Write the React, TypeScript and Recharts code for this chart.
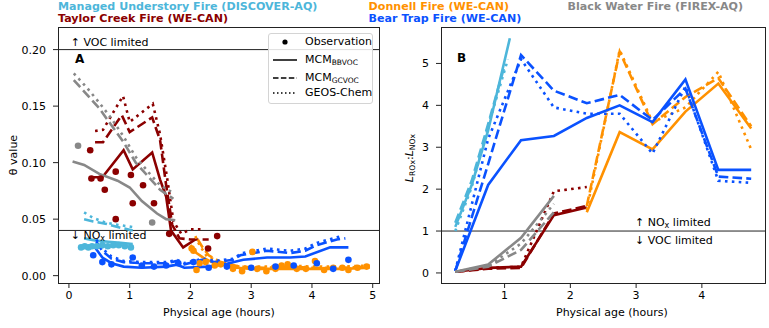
import React from "react";
import { ComposedChart, Line, Scatter, XAxis, YAxis, ReferenceLine } from "recharts";

const FONT = "'DejaVu Sans', sans-serif";

const C_UNDERSTORY = "#4db6da";
const C_TAYLOR = "#8b0000";
const C_DONNELL = "#ff9100";
const C_BEARTRAP = "#0a52ff";
const C_BLACKWATER = "#888888";

const thetaXTicks = [0, 1, 2, 3, 4, 5];
const thetaYTicks = [0, 0.05, 0.1, 0.15, 0.2];
const ratioXTicks = [1, 2, 3, 4];
const ratioYTicks = [0, 1, 2, 3, 4, 5];

// ---- panel A: theta value vs physical age (hours) ----
const understoryObsA = [[0.2, 0.025], [0.26, 0.026], [0.32, 0.025], [0.38, 0.026], [0.46, 0.026], [0.55, 0.027], [0.64, 0.026], [0.73, 0.027], [0.82, 0.027], [0.92, 0.026], [1.02, 0.025]];
const understoryBbA = [[0.25, 0.033], [0.45, 0.031], [0.65, 0.03], [0.85, 0.029], [1.05, 0.028]];
const understoryGcA = [[0.25, 0.05], [0.4, 0.048], [0.6, 0.046], [0.8, 0.043], [1.05, 0.04]];
const understoryGeosA = [[0.25, 0.056], [0.4, 0.051], [0.6, 0.047], [0.8, 0.045], [1.05, 0.043]];

const taylorObsA = [[0.35, 0.111], [0.37, 0.086], [0.52, 0.086], [0.59, 0.076], [0.77, 0.092], [0.77, 0.05], [1.02, 0.089], [1.05, 0.064], [1.22, 0.08], [1.4, 0.064], [1.65, 0.037], [2.29, 0.024], [2.44, 0.035]];
const taylorBbA = [[0.35, 0.087], [0.55, 0.087], [0.9, 0.111], [1.05, 0.094], [1.37, 0.109], [1.5, 0.085], [1.6, 0.07], [1.68, 0.04], [1.88, 0.025], [2.08, 0.032]];
const taylorGcA = [[0.43, 0.118], [0.56, 0.118], [0.87, 0.142], [1.0, 0.127], [1.37, 0.14], [1.5, 0.12], [1.6, 0.08], [1.7, 0.045], [1.82, 0.033], [2.0, 0.032], [2.3, 0.032]];
const taylorGeosA = [[0.43, 0.128], [0.56, 0.129], [0.89, 0.159], [1.0, 0.136], [1.38, 0.152], [1.5, 0.125], [1.62, 0.085], [1.72, 0.048], [1.85, 0.037], [2.0, 0.041], [2.2, 0.041]];

const donnellObsA = [[2.02, 0.024], [2.05, 0.022], [2.1, 0.005], [2.15, 0.011], [2.25, 0.012], [2.4, 0.009], [2.5, 0.01], [2.7, 0.006], [2.85, 0.004], [3.02, 0.021], [3.1, 0.006], [3.25, 0.004], [3.4, 0.006], [3.5, 0.009], [3.6, 0.01], [3.75, 0.006], [3.9, 0.006], [4.05, 0.013], [4.2, 0.005], [4.35, 0.007], [4.5, 0.007], [4.6, 0.005], [4.75, 0.007], [4.9, 0.008]];
const donnellBbA = [[2.0, 0.027], [2.1, 0.02], [2.21, 0.016], [2.35, 0.012], [2.49, 0.011], [2.76, 0.007], [3.0, 0.006], [3.5, 0.006], [4.0, 0.006], [4.5, 0.006], [4.95, 0.007]];
const donnellGcA = [[2.12, 0.032], [2.2, 0.025], [2.3, 0.018], [2.5, 0.012], [2.8, 0.008], [3.2, 0.007], [3.6, 0.008], [4.0, 0.007], [4.5, 0.007], [4.95, 0.008]];
const donnellGeosA = [[2.08, 0.035], [2.15, 0.027], [2.27, 0.017], [2.5, 0.012], [2.8, 0.008], [3.2, 0.008], [3.6, 0.009], [4.0, 0.008], [4.5, 0.008], [4.95, 0.009]];

const bearObsA = [[0.4, 0.018], [0.55, 0.012], [0.7, 0.01], [1.05, 0.016], [1.2, 0.009], [1.4, 0.008], [1.6, 0.009], [1.8, 0.011], [2.05, 0.012], [2.3, 0.007], [2.6, 0.008], [3.0, 0.007], [3.4, 0.008], [3.7, 0.009], [4.08, 0.011], [4.35, 0.006], [4.6, 0.014]];
const bearBbA = [[0.43, 0.025], [0.55, 0.016], [0.7, 0.011], [0.9, 0.008], [1.2, 0.007], [1.6, 0.008], [1.78, 0.0097], [1.9, 0.007], [2.3, 0.008], [2.6, 0.0106], [2.87, 0.014], [3.26, 0.016], [3.64, 0.016], [3.89, 0.017], [4.3, 0.025], [4.6, 0.025]];
const bearGcA = [[0.45, 0.03], [0.55, 0.022], [0.7, 0.015], [0.9, 0.012], [1.2, 0.011], [1.6, 0.011], [1.78, 0.013], [1.9, 0.01], [2.19, 0.014], [2.4, 0.012], [2.7, 0.014], [2.82, 0.018], [3.26, 0.022], [3.64, 0.02], [3.89, 0.022], [4.08, 0.027], [4.41, 0.032], [4.55, 0.033]];
const bearGeosA = [[0.45, 0.032], [0.55, 0.024], [0.7, 0.017], [0.9, 0.013], [1.2, 0.012], [1.6, 0.012], [1.78, 0.014], [1.9, 0.011], [2.2, 0.015], [2.4, 0.013], [2.7, 0.015], [2.85, 0.02], [3.26, 0.024], [3.64, 0.022], [3.89, 0.024], [4.08, 0.029], [4.41, 0.034], [4.5, 0.035]];

const blackObsA = [[0.15, 0.115], [1.37, 0.047]];
const blackBbA = [[0.06, 0.101], [0.25, 0.098], [0.5, 0.09], [0.8, 0.084], [1.0, 0.078], [1.2, 0.066], [1.45, 0.055], [1.6, 0.05], [1.75, 0.049]];
const blackGcA = [[0.08, 0.173], [0.3, 0.16], [0.5, 0.148], [0.7, 0.133], [0.9, 0.118], [1.1, 0.1], [1.3, 0.088], [1.5, 0.076], [1.72, 0.068]];
const blackGeosA = [[0.08, 0.179], [0.3, 0.166], [0.5, 0.153], [0.7, 0.139], [0.9, 0.123], [1.1, 0.105], [1.3, 0.092], [1.5, 0.08], [1.72, 0.073]];

// ---- panel B: L_ROx / L_NOx ----
const understoryBbB = [[0.25, 1.1], [0.5, 2.1], [0.75, 3.4], [1.08, 5.6]];
const understoryGcB = [[0.25, 1.2], [0.5, 2.2], [0.75, 3.55], [1.0, 4.95]];
const understoryGeosB = [[0.25, 1.0], [0.5, 2.05], [0.75, 3.5], [1.05, 5.1]];

const taylorBbB = [[0.25, 0.03], [0.75, 0.12], [1.25, 0.15], [1.75, 1.38], [2.25, 1.56]];
const taylorGcB = [[0.25, 0.03], [0.75, 0.1], [1.25, 0.12], [1.75, 1.42], [2.25, 1.6]];
const taylorGeosB = [[0.25, 0.03], [0.75, 0.12], [1.25, 0.15], [1.75, 1.95], [2.25, 2.05]];

const donnellBbB = [[2.25, 1.45], [2.75, 3.36], [3.25, 2.95], [3.75, 3.85], [4.25, 4.52], [4.75, 3.45]];
const donnellGcB = [[2.25, 1.6], [2.75, 5.28], [3.25, 3.55], [3.75, 4.2], [4.25, 4.65], [4.75, 3.5]];
const donnellGeosB = [[2.25, 1.5], [2.75, 5.32], [3.25, 3.6], [3.75, 3.95], [4.25, 4.8], [4.75, 2.95]];

const bearBbB = [[0.25, 0.05], [0.75, 2.1], [1.25, 3.17], [1.75, 3.27], [2.25, 3.7], [2.75, 4.0], [3.25, 3.6], [3.75, 4.62], [4.25, 2.46], [4.75, 2.46]];
const bearGcB = [[0.25, 0.05], [0.75, 2.6], [1.25, 5.2], [1.75, 4.35], [2.25, 4.05], [2.75, 4.25], [3.25, 3.65], [3.75, 4.4], [4.25, 2.3], [4.75, 2.25]];
const bearGeosB = [[0.25, 0.05], [0.75, 3.2], [1.25, 5.1], [1.75, 3.95], [2.25, 3.8], [2.75, 3.8], [3.25, 2.85], [3.75, 4.45], [4.25, 2.2], [4.75, 2.15]];

const blackBbB = [[0.25, 0.03], [0.75, 0.2], [1.25, 0.84], [1.75, 1.84]];
const blackGcB = [[0.25, 0.03], [0.75, 0.15], [1.25, 0.55], [1.75, 1.45]];
const blackGeosB = [[0.25, 0.03], [0.75, 0.17], [1.25, 0.7], [1.75, 1.65]];

type Fire = { color: string; obs?: number[][]; bb: number[][]; gc: number[][]; geos: number[][] };

const firesA: Fire[] = [
  { color: C_UNDERSTORY, obs: understoryObsA, bb: understoryBbA, gc: understoryGcA, geos: understoryGeosA },
  { color: C_TAYLOR, obs: taylorObsA, bb: taylorBbA, gc: taylorGcA, geos: taylorGeosA },
  { color: C_DONNELL, obs: donnellObsA, bb: donnellBbA, gc: donnellGcA, geos: donnellGeosA },
  { color: C_BEARTRAP, obs: bearObsA, bb: bearBbA, gc: bearGcA, geos: bearGeosA },
  { color: C_BLACKWATER, obs: blackObsA, bb: blackBbA, gc: blackGcA, geos: blackGeosA },
];

const firesB: Fire[] = [
  { color: C_UNDERSTORY, bb: understoryBbB, gc: understoryGcB, geos: understoryGeosB },
  { color: C_TAYLOR, bb: taylorBbB, gc: taylorGcB, geos: taylorGeosB },
  { color: C_DONNELL, bb: donnellBbB, gc: donnellGcB, geos: donnellGeosB },
  { color: C_BEARTRAP, bb: bearBbB, gc: bearGcB, geos: bearGeosB },
  { color: C_BLACKWATER, bb: blackBbB, gc: blackGcB, geos: blackGeosB },
];

const LW = 2.6;
const DASH = "9.6 4.2";
const DOT = "2.6 4.3";

const toPts = (a: number[][]) => a.map(([x, y]) => ({ x, y }));

// observations as dots, then the three model runs (solid / dashed / dotted)
function fireSeries(f: Fire, id: string) {
  const out: React.ReactNode[] = [];
  if (f.obs) {
    out.push(
      <Scatter
        key={id + "obs"}
        data={toPts(f.obs)}
        dataKey="y"
        isAnimationActive={false}
        shape={(p: any) => <circle cx={p.cx} cy={p.cy} r={3.3} fill={f.color} />}
      />
    );
  }
  out.push(
    <Line key={id + "bb"} data={toPts(f.bb)} dataKey="y" type="linear" stroke={f.color} strokeWidth={LW} dot={false} activeDot={false} isAnimationActive={false} />,
    <Line key={id + "gc"} data={toPts(f.gc)} dataKey="y" type="linear" stroke={f.color} strokeWidth={LW} strokeDasharray={DASH} dot={false} activeDot={false} isAnimationActive={false} />,
    <Line key={id + "geos"} data={toPts(f.geos)} dataKey="y" type="linear" stroke={f.color} strokeWidth={LW} strokeDasharray={DOT} dot={false} activeDot={false} isAnimationActive={false} />
  );
  return out;
}

const tickStyle = { fontSize: 11, fill: "#000", fontFamily: FONT };

function Txt({ x, y, size = 11, bold = false, color = "#000", h = 14, children }: any) {
  return (
    <div
      style={{
        position: "absolute",
        left: x,
        top: y - h / 2,
        height: h,
        lineHeight: h + "px",
        fontSize: size,
        fontWeight: bold ? "bold" : "normal",
        color,
        whiteSpace: "nowrap",
      }}
    >
      {children}
    </div>
  );
}

const sub = (s: string, size = 8) => (
  <span style={{ fontSize: size, position: "relative", top: 2 }}>{s}</span>
);

function LegendKey({ kind }: { kind: string }) {
  return (
    <svg width={26} height={10} style={{ position: "absolute", left: 3, top: -5 }}>
      {kind === "obs" ? (
        <circle cx={13} cy={5} r={2.6} fill="#000" />
      ) : (
        <line
          x1={1}
          x2={25}
          y1={5}
          y2={5}
          stroke="#000"
          strokeWidth={1.5}
          strokeDasharray={kind === "gc" ? "5.5 2.4" : kind === "geos" ? "1.5 2.5" : undefined}
        />
      )}
    </svg>
  );
}

function Frame({ left, top, width, height }: any) {
  return (
    <div
      style={{
        position: "absolute",
        left,
        top,
        width,
        height,
        border: "1px solid #222",
        boxSizing: "border-box",
        pointerEvents: "none",
      }}
    />
  );
}

export default function App() {
  return (
    <div style={{ position: "absolute", left: 0, top: 0, width: 769, height: 328, background: "#fff", fontFamily: FONT, overflow: "hidden" }}>
      {/* fire names */}
      <Txt x={58} y={7.3} size={11.1} h={12} bold color={C_UNDERSTORY}>Managed Understory Fire (DISCOVER-AQ)</Txt>
      <Txt x={58} y={19.3} size={11.1} h={12} bold color={C_TAYLOR}>Taylor Creek Fire (WE-CAN)</Txt>
      <Txt x={368.6} y={7.3} size={11.1} h={12} bold color={C_DONNELL}>Donnell Fire (WE-CAN)</Txt>
      <Txt x={368.6} y={19.3} size={11.1} h={12} bold color={C_BEARTRAP}>Bear Trap Fire (WE-CAN)</Txt>
      <Txt x={567.6} y={7.3} size={11.1} h={12} bold color={C_BLACKWATER}>Black Water Fire (FIREX-AQ)</Txt>

      {/* panel A */}
      <div style={{ position: "absolute", left: 0, top: 0 }}>
        <ComposedChart width={385} height={328} margin={{ top: 27, right: 5, bottom: 15, left: 18 }}>
          <XAxis
            type="number"
            dataKey="x"
            domain={[-0.18, 5.12]}
            allowDataOverflow
            ticks={thetaXTicks}
            interval={0}
            height={30}
            axisLine={false}
            tickSize={5}
            tickMargin={3}
            tickLine={{ stroke: "#222" }}
            tick={tickStyle}
          />
          <YAxis
            type="number"
            dataKey="y"
            domain={[-0.0065, 0.22]}
            allowDataOverflow
            ticks={thetaYTicks}
            interval={0}
            width={40}
            axisLine={false}
            tickSize={5}
            tickMargin={7}
            tickLine={{ stroke: "#222" }}
            tick={tickStyle}
            tickFormatter={(v: number) => v.toFixed(2)}
          />
          <ReferenceLine y={0.2} stroke="#222" strokeWidth={1} />
          <ReferenceLine y={0.04} stroke="#222" strokeWidth={1} />
          {firesA.map((f, i) => fireSeries(f, "a" + i))}
        </ComposedChart>
      </div>
      <Frame left={58} top={27} width={322} height={257} />

      {/* panel B */}
      <div style={{ position: "absolute", left: 400, top: 0 }}>
        <ComposedChart width={369} height={328} margin={{ top: 27, right: 4, bottom: 15, left: 1 }}>
          <XAxis
            type="number"
            dataKey="x"
            domain={[0.033, 4.96]}
            allowDataOverflow
            ticks={ratioXTicks}
            interval={0}
            height={30}
            axisLine={false}
            tickSize={5}
            tickMargin={3}
            tickLine={{ stroke: "#222" }}
            tick={tickStyle}
          />
          <YAxis
            type="number"
            dataKey="y"
            domain={[-0.24, 5.87]}
            allowDataOverflow
            ticks={ratioYTicks}
            interval={0}
            width={40}
            axisLine={false}
            tickSize={5}
            tickMargin={7}
            tickLine={{ stroke: "#222" }}
            tick={tickStyle}
          />
          <ReferenceLine y={1} stroke="#222" strokeWidth={1} />
          {firesB.map((f, i) => fireSeries(f, "b" + i))}
        </ComposedChart>
      </div>
      <Frame left={441} top={27} width={325} height={257} />

      {/* annotations */}
      <Txt x={70.7} y={42.7}>↑ VOC limited</Txt>
      <Txt x={75} y={59} size={12} bold>A</Txt>
      <Txt x={70.7} y={236}>↓ NO{sub("x")} limited</Txt>
      <Txt x={457} y={58.3} size={12} bold>B</Txt>
      <Txt x={635} y={223.3}>↑ NO{sub("x")} limited</Txt>
      <Txt x={635} y={241}>↓ VOC limited</Txt>

      {/* legend */}
      <div
        style={{
          position: "absolute",
          left: 268,
          top: 33,
          width: 105,
          height: 71,
          border: "1px solid #d4d4d4",
          borderRadius: 3,
          background: "rgba(255,255,255,0.85)",
          boxSizing: "border-box",
          fontSize: 11,
        }}
      >
        {[
          { kind: "obs", y: 9.3, label: <>Observation</> },
          { kind: "bb", y: 27, label: <>MCM{sub("BBVOC", 7.5)}</> },
          { kind: "gc", y: 44.7, label: <>MCM{sub("GCVOC", 7.5)}</> },
          { kind: "geos", y: 60.3, label: <>GEOS-Chem</> },
        ].map((r) => (
          <div key={r.kind} style={{ position: "absolute", left: 0, top: r.y - 1 }}>
            <LegendKey kind={r.kind} />
            <div style={{ position: "absolute", left: 36, top: -7, lineHeight: "14px", whiteSpace: "nowrap" }}>{r.label}</div>
          </div>
        ))}
      </div>

      {/* axis titles */}
      <Txt x={163} y={313}>Physical age (hours)</Txt>
      <Txt x={556} y={313}>Physical age (hours)</Txt>
      <div style={{ position: "absolute", left: 14 - 50, top: 155 - 7, width: 100, height: 14, lineHeight: "14px", fontSize: 11, textAlign: "center", transform: "rotate(-90deg)" }}>
        θ value
      </div>
      <div style={{ position: "absolute", left: 410 - 50, top: 158 - 8, width: 100, height: 16, lineHeight: "16px", fontSize: 11, textAlign: "center", transform: "rotate(-90deg)", whiteSpace: "nowrap" }}>
        <i>L</i>{sub("ROx", 7.7)}:<i>L</i>{sub("NOx", 7.7)}
      </div>
    </div>
  );
}
